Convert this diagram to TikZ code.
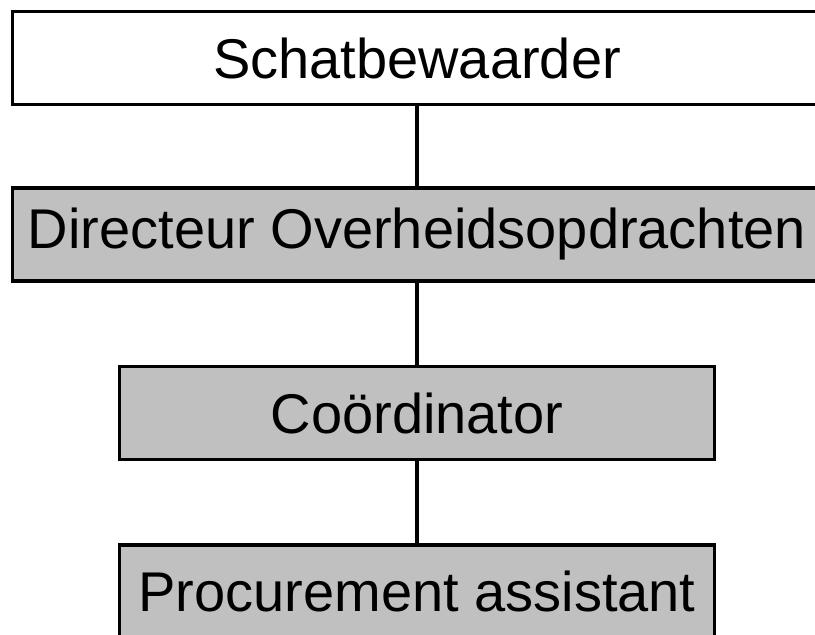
\documentclass[tikz,border=0pt]{standalone}
\usepackage{fontspec}
\setmainfont{Liberation Sans}
\definecolor{boxgray}{RGB}{192,192,192}
\begin{document}
\begin{tikzpicture}[x=1pt,y=1pt,
  orgbox/.style={draw=black, line width=3.5pt, font=\fontsize{56}{60}\selectfont, inner sep=0pt},
  wide/.style={orgbox, minimum width=809pt, minimum height=93pt},
  narrow/.style={orgbox, minimum width=595pt, minimum height=93pt},
  link/.style={draw=black, line width=3.5pt}]
\useasboundingbox (0,0) rectangle (815,635);
\clip (0,0) rectangle (815,635);
\fill[white] (0,0) rectangle (815,635);
\node[wide, fill=white] (s) at (417,577) {Schatbewaarder};
\node[wide, fill=boxgray] (d) at (417,400.5) {Directeur Overheidsopdrachten};
\node[narrow, fill=boxgray] (c) at (417,222) {Coördinator};
\node[narrow, fill=boxgray] (p) at (417,43.5) {Procurement assistant};
\draw[link] (s.south) -- (d.north);
\draw[link] (d.south) -- (c.north);
\draw[link] (c.south) -- (p.north);
\end{tikzpicture}
\end{document}
